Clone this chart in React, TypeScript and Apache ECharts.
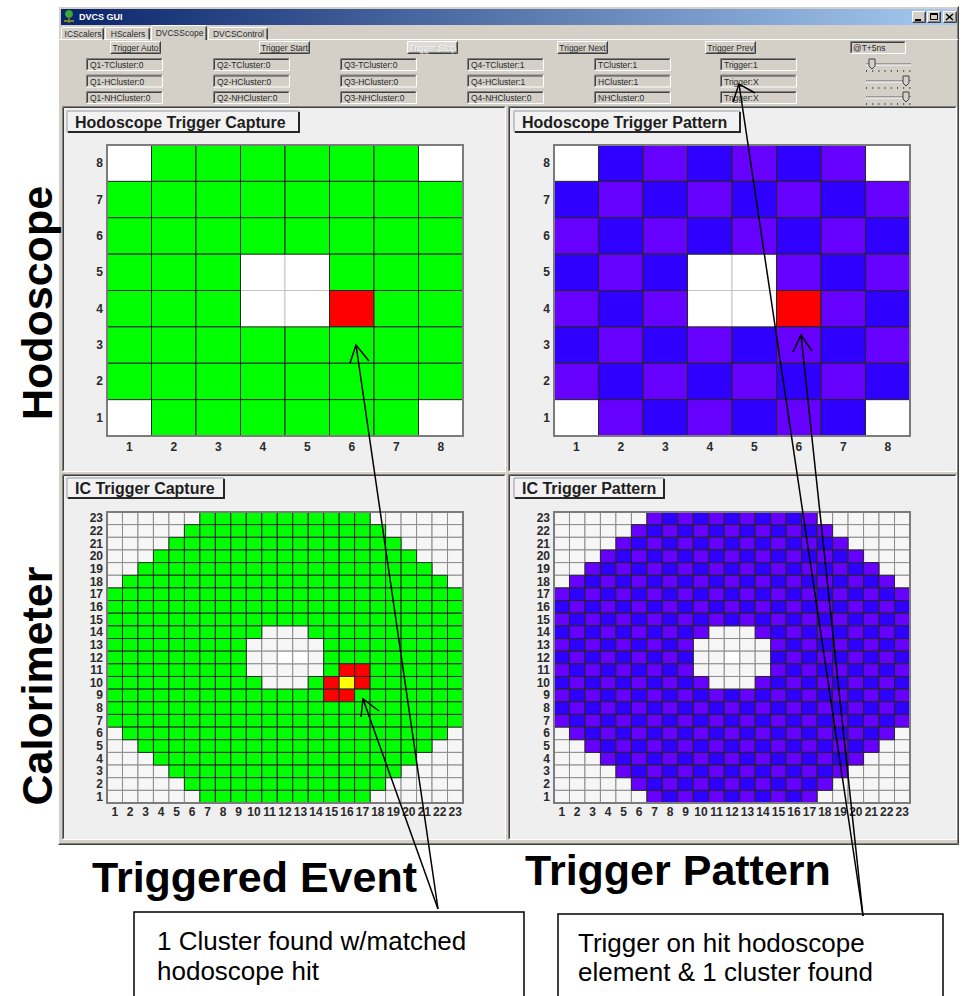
import React, { useEffect, useRef } from 'react';
import * as echarts from 'echarts';

const FONT = '"Liberation Sans", Arial, Helvetica, sans-serif';

// ---------- data ----------
const HODO_LABELS = ['1', '2', '3', '4', '5', '6', '7', '8'];
const IC_LABELS = ['1', '2', '3', '4', '5', '6', '7', '8', '9', '10', '11', '12', '13', '14', '15', '16', '17', '18', '19', '20', '21', '22', '23'];

// rows listed top (highest y) to bottom; '.' empty, g green, r red, y yellow, b blue, v violet, w white
const HODO_CAPTURE = [
  '.gggggg.',
  'gggggggg',
  'gggggggg',
  'ggg..ggg',
  'ggg..rgg',
  'gggggggg',
  'gggggggg',
  '.gggggg.',
];

const HODO_PATTERN = [
  '.bvbvbv.',
  'bvbvbvbv',
  'vbvbvbvb',
  'bvb..vbv',
  'vbv..rvb',
  'bvbvbvbv',
  'vbvbvbvb',
  '.vbvbvb.',
];

const IC_CAPTURE = [
  '......ggggggggggg......',
  '.....ggggggggggggg.....',
  '....ggggggggggggggg....',
  '...ggggggggggggggggg...',
  '..ggggggggggggggggggg..',
  '.ggggggggggggggggggggg.',
  'ggggggggggggggggggggggg',
  'ggggggggggggggggggggggg',
  'ggggggggggggggggggggggg',
  'gggggggggg...gggggggggg',
  'ggggggggg.....ggggggggg',
  'ggggggggg..ww.ggggggggg',
  'ggggggggg.....grrgggggg',
  'gggggggggg...gryrgggggg',
  'ggggggggggggggrrggggggg',
  'ggggggggggggggggggggggg',
  'ggggggggggggggggggggggg',
  '.ggggggggggggggggggggg.',
  '..ggggggggggggggggggg..',
  '...ggggggggggggggggg...',
  '....ggggggggggggggg....',
  '.....ggggggggggggg.....',
  '......ggggggggggg......',
];

const IC_PATTERN = [
  '......vbvbvbvbvbv......',
  '.....vbvbvbvbvbvbv.....',
  '....vbvbvbvbvbvbvbv....',
  '...vbvbvbvbvbvbvbvbv...',
  '..vbvbvbvbvbvbvbvbvbv..',
  '.vbvbvbvbvbvbvbvbvbvbv.',
  'vbvbvbvbvbvbvbvbvbvbvbv',
  'bvbvbvbvbvbvbvbvbvbvbvb',
  'vbvbvbvbvbvbvbvbvbvbvbv',
  'bvbvbvbvbv...vbvbvbvbvb',
  'vbvbvbvbv.....vbvbvbvbv',
  'bvbvbvbvb..w..bvbvbvbvb',
  'vbvbvbvbv.....vbvbvbvbv',
  'bvbvbvbvbv...vbvbvbvbvb',
  'vbvbvbvbvbvbvbvbvbvbvbv',
  'bvbvbvbvbvbvbvbvbvbvbvb',
  'vbvbvbvbvbvbvbvbvbvbvbv',
  '.vbvbvbvbvbvbvbvbvbvbv.',
  '..vbvbvbvbvbvbvbvbvbv..',
  '...vbvbvbvbvbvbvbvbv...',
  '....vbvbvbvbvbvbvbv....',
  '.....vbvbvbvbvbvbv.....',
  '......vbvbvbvbvbv......',
];

const PANEL_TITLES = ['Hodoscope Trigger Capture', 'Hodoscope Trigger Pattern', 'IC Trigger Capture', 'IC Trigger Pattern'];
const TABS = ['ICScalers', 'HScalers', 'DVCSScope', 'DVCSControl'];
const BUTTONS = ['Trigger Auto', 'Trigger Start', 'Trigger Stop', 'Trigger Next', 'Trigger Prev'];
const FIELDS = [
  ['Q1-TCluster:0', 'Q1-HCluster:0', 'Q1-NHCluster:0'],
  ['Q2-TCluster:0', 'Q2-HCluster:0', 'Q2-NHCluster:0'],
  ['Q3-TCluster:0', 'Q3-HCluster:0', 'Q3-NHCluster:0'],
  ['Q4-TCluster:1', 'Q4-HCluster:1', 'Q4-NHCluster:0'],
  ['TCluster:1', 'HCluster:1', 'NHCluster:0'],
  ['Trigger:1', 'Trigger:X', 'Trigger:X'],
];
const TIME_FIELD = '@T+5ns';
const SIDE_LABELS = ['Hodoscope', 'Calorimeter'];
const BOTTOM_TITLES = ['Triggered Event', 'Trigger Pattern'];
const NOTE_1 = ['1 Cluster found w/matched', 'hodoscope hit'];
const NOTE_2 = ['Trigger on hit hodoscope', 'element & 1 cluster found'];

const COLORS: Record<string, string> = {
  g: '#00ff00',
  r: '#ff0000',
  y: '#ffff00',
  b: '#3000ff',
  v: '#6600ff',
  w: '#ffffff',
};

// ---------- layout ----------
const GRID_BOXES = [
  { left: 107, top: 145, width: 356, height: 291 },
  { left: 554, top: 145, width: 356, height: 291 },
  { left: 107, top: 512, width: 356, height: 291 },
  { left: 554, top: 512, width: 356, height: 291 },
];

type Cell = { x: number; y: number; code: string };

function buildCells(rows: string[]): Cell[] {
  const n = rows.length;
  const cells: Cell[] = [];
  rows.forEach((row, i) => {
    for (let j = 0; j < row.length; j++) cells.push({ x: j, y: n - 1 - i, code: row[j] });
  });
  const rank = (c: string) => (c === '.' ? 0 : c === 'w' ? 1 : 2);
  cells.sort((a, b) => rank(a.code) - rank(b.code));
  return cells;
}

function buildOption() {
  const E: any[] = [];
  const R = (x: number, y: number, w: number, h: number, fill: any, stroke: any = null, lw = 1, z = 0) =>
    E.push({ type: 'rect', z, shape: { x, y, width: w, height: h }, style: { fill, stroke, lineWidth: lw } });
  const PL = (pts: number[][], stroke: string, lw = 1, z = 0) =>
    E.push({ type: 'polyline', z, shape: { points: pts }, style: { stroke, fill: null, lineWidth: lw } });
  const LN = (x1: number, y1: number, x2: number, y2: number, stroke: string, lw = 1, z = 0) =>
    E.push({ type: 'line', z, shape: { x1, y1, x2, y2 }, style: { stroke, lineWidth: lw } });
  const T = (x: number, y: number, text: string, o: any = {}) =>
    E.push({
      type: 'text',
      z: o.z ?? 1,
      x,
      y,
      rotation: o.rot || 0,
      style: {
        text,
        fill: o.fill || '#2a2a2a',
        fontSize: o.size || 9,
        fontWeight: o.bold ? 'bold' : 'normal',
        fontFamily: FONT,
        align: o.align || 'left',
        verticalAlign: 'middle',
      },
    });
  const raised = (x: number, y: number, w: number, h: number, fill: string, z = 0) => {
    R(x, y, w, h, fill, null, 1, z);
    PL([[x + 0.5, y + h - 0.5], [x + 0.5, y + 0.5], [x + w - 0.5, y + 0.5]], '#ffffff', 1, z);
    PL([[x + 0.5, y + h - 0.5], [x + w - 0.5, y + h - 0.5], [x + w - 0.5, y + 0.5]], '#404040', 1, z);
    PL([[x + 1.5, y + h - 1.5], [x + w - 1.5, y + h - 1.5], [x + w - 1.5, y + 1.5]], '#808080', 1, z);
  };
  const sunken = (x: number, y: number, w: number, h: number, fill: string, z = 0) => {
    R(x, y, w, h, fill, null, 1, z);
    PL([[x + 0.5, y + h - 0.5], [x + 0.5, y + 0.5], [x + w - 0.5, y + 0.5]], '#808080', 1, z);
    PL([[x + 1.5, y + h - 1.5], [x + 1.5, y + 1.5], [x + w - 1.5, y + 1.5]], '#404040', 1, z);
    PL([[x + 0.5, y + h - 0.5], [x + w - 0.5, y + h - 0.5], [x + w - 0.5, y + 0.5]], '#ffffff', 1, z);
  };

  // window
  raised(58, 6, 901, 839, '#d4d0c8');
  R(61, 9, 895, 16, new echarts.graphic.LinearGradient(0, 0, 1, 0, [
    { offset: 0, color: '#0a246a' },
    { offset: 1, color: '#a6caf0' },
  ]));
  E.push({ type: 'circle', z: 1, shape: { cx: 69, cy: 14, r: 4 }, style: { fill: '#3aa83a' } });
  R(68, 17, 2, 6, '#8b5a2b', null, 1, 1);
  R(64, 20, 10, 2, '#6b8e23', null, 1, 1);
  T(79, 17, 'DVCS GUI', { fill: '#ffffff', bold: true, size: 9 });
  raised(912, 11, 14, 12, '#d4d0c8', 1);
  raised(927, 11, 14, 12, '#d4d0c8', 1);
  raised(943, 11, 14, 12, '#d4d0c8', 1);
  LN(915, 20, 921, 20, '#000', 2, 2);
  R(930.5, 13.5, 7, 6, null, '#000', 1, 2);
  LN(930.5, 14, 937.5, 14, '#000', 2, 2);
  LN(946, 14, 953, 20, '#000', 1.5, 2);
  LN(953, 14, 946, 20, '#000', 1.5, 2);

  // tabs
  LN(58, 39.5, 958, 39.5, '#ffffff', 1, 0);
  const tabX = [61, 105, 151, 208];
  const tabW = [44, 46, 57, 61];
  TABS.forEach((t, i) => {
    const sel = i === 2;
    const x = tabX[i];
    const w = tabW[i];
    const y = sel ? 25 : 27;
    const h = sel ? 15 : 12.5;
    if (sel) R(x, y, w, h + 1, '#d4d0c8', null, 1, 1);
    PL([[x + 0.5, y + h], [x + 0.5, y + 1.5], [x + 1.5, y + 0.5], [x + w - 2, y + 0.5]], '#ffffff', 1, 1);
    PL([[x + w - 1.5, y + 1.5], [x + w - 1.5, y + h]], '#404040', 1, 1);
    PL([[x + w - 2.5, y + 1.5], [x + w - 2.5, y + h]], '#808080', 1, 1);
    T(x + w / 2, y + h / 2 + 0.5, t, { align: 'center', size: 8.5, z: 2 });
  });

  // buttons
  const btnX = [110, 259, 407, 557, 705];
  BUTTONS.forEach((b, i) => {
    const dis = i === 2;
    raised(btnX[i], 41, 51, 13, dis ? '#dedbd5' : '#d4d0c8', 1);
    if (dis) T(btnX[i] + 26.5, 48.5, b, { align: 'center', size: 8.5, fill: '#b8b8b8', z: 2 });
    T(btnX[i] + 25.5, 47.5, b, { align: 'center', size: 8.5, fill: dis ? '#f6f6f6' : '#2a2a2a', z: 2 });
  });
  sunken(850, 41, 56, 13, '#d4d0c8', 1);
  T(853, 47.5, TIME_FIELD, { size: 8.5, z: 2 });

  // fields
  const fieldX = [86, 213, 340, 467, 594, 720];
  const fieldY = [58, 74.5, 91];
  FIELDS.forEach((col, c) => {
    col.forEach((txt, r) => {
      sunken(fieldX[c], fieldY[r], 77, 13, '#d4d0c8', 1);
      T(fieldX[c] + 4, fieldY[r] + 7, txt, { size: 8.5, z: 2 });
    });
  });

  // sliders
  const sliderY = [64, 81, 97];
  const thumbX = [872, 906, 906];
  sliderY.forEach((y0, s) => {
    LN(866, y0, 911, y0, '#606060', 1, 1);
    LN(866, y0 + 1, 911, y0 + 1, '#ffffff', 1, 1);
    for (let k = 0; k < 8; k++) R(866 + k * 6.2, y0 + 6, 1, 2, '#505050', null, 1, 1);
    const tx = thumbX[s];
    E.push({
      type: 'polygon',
      z: 2,
      shape: { points: [[tx - 3, y0 - 5], [tx + 3, y0 - 5], [tx + 3, y0 + 2], [tx, y0 + 5], [tx - 3, y0 + 2]] },
      style: { fill: '#d4d0c8', stroke: '#404040', lineWidth: 1 },
    });
  });

  // panels
  const panelBoxes = [
    [62, 106, 444, 366],
    [508, 106, 449, 366],
    [62, 474, 444, 366],
    [508, 474, 449, 366],
  ];
  panelBoxes.forEach((p) => sunken(p[0], p[1], p[2], p[3], '#efefef', 1));

  // panel title buttons
  const titleBoxes = [
    [67, 111, 232, 21],
    [514, 111, 226, 21],
    [67, 478, 157, 20],
    [514, 478, 150, 20],
  ];
  PANEL_TITLES.forEach((t, i) => {
    const [x, y, w, h] = titleBoxes[i];
    R(x, y, w, h, '#f2f2f2', '#9a9a9a', 1, 2);
    PL([[x + 1, y + h], [x + w, y + h], [x + w, y + 1]], '#262626', 2, 2);
    T(x + 8, y + h / 2 + 0.5, t, { size: 16, bold: true, fill: '#1e1e1e', z: 3 });
  });

  // grid frames
  GRID_BOXES.forEach((g) => R(g.left, g.top, g.width, g.height, null, '#7c7c7c', 2, 10));

  // big labels
  T(37, 303, SIDE_LABELS[0], { size: 43, bold: true, fill: '#000', rot: Math.PI / 2, align: 'center', z: 60 });
  T(37, 686, SIDE_LABELS[1], { size: 43, bold: true, fill: '#000', rot: Math.PI / 2, align: 'center', z: 60 });
  T(92, 877, BOTTOM_TITLES[0], { size: 43, bold: true, fill: '#000', z: 60 });
  T(525, 870, BOTTOM_TITLES[1], { size: 43, bold: true, fill: '#000', z: 60 });

  // note boxes
  R(134, 912, 390, 100, '#ffffff', '#000', 1.5, 60);
  R(558, 914, 385, 100, '#ffffff', '#000', 1.5, 60);
  T(157, 941, NOTE_1[0], { size: 26, fill: '#000', z: 61 });
  T(157, 971, NOTE_1[1], { size: 26, fill: '#000', z: 61 });
  T(578, 943, NOTE_2[0], { size: 26, fill: '#000', z: 61 });
  T(578, 972, NOTE_2[1], { size: 26, fill: '#000', z: 61 });

  // arrows
  LN(438, 909, 356, 345, '#000', 1.5, 100);
  LN(438, 909, 363, 699, '#000', 1.5, 100);
  LN(863, 916, 801, 335, '#000', 1.5, 100);
  LN(863, 916, 739, 84, '#000', 1.5, 100);
  PL([[350, 363], [356, 345], [369, 361]], '#000', 1.5, 100);
  PL([[361, 717], [363, 699], [379, 711]], '#000', 1.5, 100);
  PL([[793, 352], [801, 335], [812, 351]], '#000', 1.5, 100);
  PL([[733, 102], [739, 84], [755, 93]], '#000', 1.5, 100);

  // series
  const grids = [HODO_CAPTURE, HODO_PATTERN, IC_CAPTURE, IC_PATTERN];
  const series = grids.map((rows, k) => {
    const cells = buildCells(rows);
    const isIC = k >= 2;
    return {
      type: 'custom',
      coordinateSystem: 'cartesian2d',
      xAxisIndex: k,
      yAxisIndex: k,
      z: 3,
      silent: true,
      data: cells.map((c) => [c.x, c.y]),
      renderItem: (params: any, api: any) => {
        const cell = cells[params.dataIndex];
        const c = api.coord([api.value(0), api.value(1)]);
        const s = api.size([1, 1]);
        let fill: string;
        let stroke: string;
        if (cell.code === '.') {
          fill = isIC ? '#f6f6f6' : '#ffffff';
          stroke = isIC ? '#8c8c8c' : '#c4c4c4';
        } else if (cell.code === 'w') {
          fill = '#ffffff';
          stroke = isIC ? '#8c8c8c' : '#c4c4c4';
        } else {
          fill = COLORS[cell.code];
          stroke = '#262626';
        }
        return {
          type: 'rect',
          shape: { x: c[0] - s[0] / 2, y: c[1] - s[1] / 2, width: s[0], height: s[1] },
          style: { fill, stroke, lineWidth: 1 },
        };
      },
    };
  });

  const labelsFor = (k: number) => (k < 2 ? HODO_LABELS : IC_LABELS);

  return {
    animation: false,
    backgroundColor: '#ffffff',
    textStyle: { fontFamily: FONT },
    grid: GRID_BOXES.map((g) => ({ ...g, show: false, containLabel: false, outerBoundsMode: 'none' })),
    xAxis: GRID_BOXES.map((_, k) => ({
      type: 'category',
      gridIndex: k,
      data: labelsFor(k),
      z: 4,
      axisLine: { show: false },
      axisTick: { show: false },
      splitLine: { show: false },
      axisLabel: {
        interval: 0,
        fontSize: 12,
        fontWeight: 'bold',
        color: '#2a2a2a',
        margin: k < 2 ? 5 : 3,
        fontFamily: FONT,
      },
    })),
    yAxis: GRID_BOXES.map((_, k) => ({
      type: 'category',
      gridIndex: k,
      data: labelsFor(k),
      z: 4,
      axisLine: { show: false },
      axisTick: { show: false },
      splitLine: { show: false },
      axisLabel: {
        interval: 0,
        fontSize: 12,
        fontWeight: 'bold',
        color: '#2a2a2a',
        margin: 4,
        fontFamily: FONT,
      },
    })),
    series,
    graphic: { elements: E },
  };
}

export default function App() {
  const ref = useRef<HTMLDivElement>(null);
  useEffect(() => {
    const chart = echarts.init(ref.current!, null, { renderer: 'svg' });
    chart.setOption(buildOption() as any);
    return () => chart.dispose();
  }, []);
  return <div ref={ref} style={{ position: 'absolute', left: 0, top: 0, width: 963, height: 996 }} />;
}
